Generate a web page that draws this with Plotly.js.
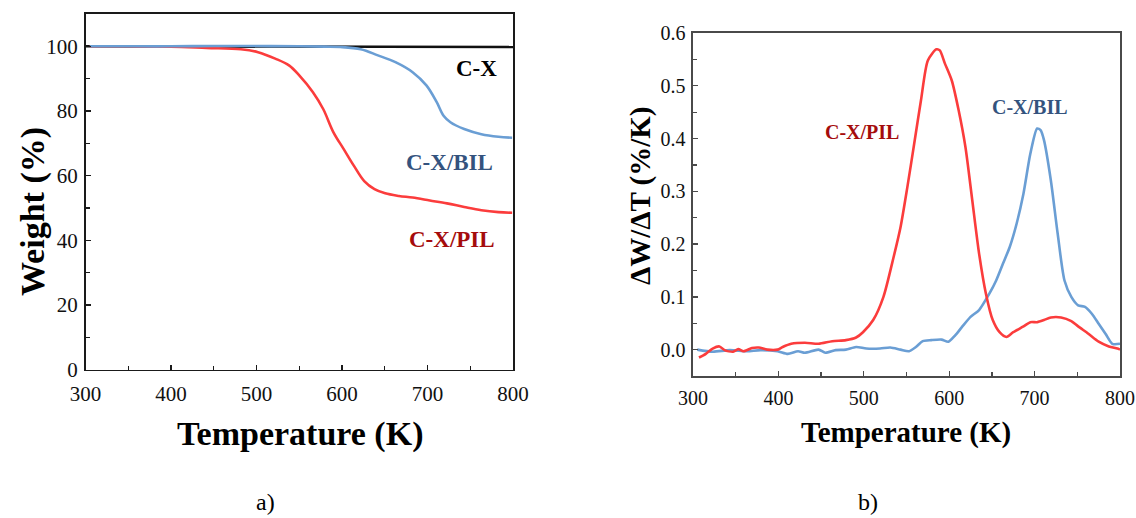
<!DOCTYPE html>
<html>
<head>
<meta charset="utf-8">
<script src="https://cdn.plot.ly/plotly-3.0.1.min.js"></script>
<style>
  html, body { margin: 0; padding: 0; background: #ffffff; }
  #chart { width: 1136px; height: 518px; }
</style>
</head>
<body>
<div id="chart"></div>
<script>
// ---- TGA weight curves (panel a) ----
const tgaTempCX = [300, 400, 500, 600, 700, 800];
const tgaWeightCX = [100, 100, 100, 100, 99.9, 99.8];

const tgaTempBIL = [305, 350, 400, 450, 500, 550, 580, 598, 622, 642, 662.5, 682.6, 698.7, 710.8, 718.8, 726.8, 742.9, 763, 783, 799];
const tgaWeightBIL = [100, 100, 100, 100.1, 100.1, 100, 99.9, 99.8, 99.1, 97.2, 95.1, 92, 87.9, 82.7, 78.5, 76.5, 74.4, 72.8, 72.0, 71.7];

const tgaTempPIL = [305, 350, 400, 441.5, 481.7, 501.8, 521.9, 538, 550, 566, 578, 590, 602, 614, 626, 638, 650.5, 666.6, 682.6, 702.7, 722.8, 742.9, 763, 783, 799];
const tgaWeightPIL = [100, 100, 99.9, 99.5, 99.1, 98.2, 96.2, 94.1, 91, 85.8, 80.6, 73.4, 68.2, 63, 58.3, 55.8, 54.5, 53.7, 53.2, 52.3, 51.4, 50.3, 49.3, 48.7, 48.5];

// ---- DTG curves (panel b) ----
const dtgTempPIL = [307, 315, 323, 331, 337, 347, 353, 359, 369, 377, 387, 399, 405, 415, 431, 447, 463, 479, 491, 499, 511, 523, 535, 543, 551, 559, 567, 575, 585, 589, 595, 603, 611, 619, 627, 635, 643, 651, 659, 667, 675, 687, 695, 703, 711, 719, 731, 743, 751, 763, 775, 787, 797, 800];
const dtgRatePIL = [-0.015, -0.008, 0.002, 0.006, -0.001, -0.004, 0.001, -0.003, 0.003, 0.004, 0.0, 0.0, 0.005, 0.011, 0.013, 0.011, 0.016, 0.018, 0.023, 0.033, 0.056, 0.1, 0.176, 0.232, 0.308, 0.39, 0.473, 0.548, 0.569, 0.567, 0.542, 0.51, 0.454, 0.384, 0.283, 0.182, 0.106, 0.056, 0.033, 0.024, 0.033, 0.044, 0.052, 0.052, 0.056, 0.061, 0.061, 0.054, 0.044, 0.03, 0.015, 0.006, 0.002, 0.0];

const dtgTempBIL = [305, 323, 343, 363, 379, 399, 411, 423, 431, 447, 455, 467, 479, 491, 503, 519, 531, 543, 553, 561, 569, 579, 591, 599, 607, 615, 625, 635, 647, 655, 663, 671, 679, 687, 695, 703, 707, 711, 719, 727, 735, 743, 751, 759, 767, 775, 783, 791, 800];
const dtgRateBIL = [0.0, -0.004, -0.001, -0.003, -0.001, -0.003, -0.008, -0.003, -0.006, 0.0, -0.006, -0.001, 0.0, 0.005, 0.002, 0.002, 0.004, 0.0, -0.003, 0.005, 0.016, 0.018, 0.019, 0.015, 0.027, 0.043, 0.062, 0.075, 0.106, 0.131, 0.163, 0.195, 0.239, 0.296, 0.371, 0.419, 0.416, 0.397, 0.321, 0.22, 0.131, 0.1, 0.084, 0.081, 0.068, 0.049, 0.03, 0.011, 0.011];

// ---- tick values ----
const tempTicks = [300, 400, 500, 600, 700, 800];
const weightTicks = [0, 20, 40, 60, 80, 100];
const rateTicks = [0.0, 0.1, 0.2, 0.3, 0.4, 0.5, 0.6];

const RED = '#fb3c3c';
const BLUE = '#6a9ed4';
const SERIF = 'Liberation Serif';

const traces = [
  { x: tgaTempCX, y: tgaWeightCX, xaxis: 'x', yaxis: 'y', mode: 'lines', line: { color: '#111111', width: 2.6 }, name: 'C-X' },
  { x: tgaTempPIL, y: tgaWeightPIL, xaxis: 'x', yaxis: 'y', mode: 'lines', line: { color: RED, width: 2.6, shape: 'spline' }, name: 'C-X/PIL' },
  { x: tgaTempBIL, y: tgaWeightBIL, xaxis: 'x', yaxis: 'y', mode: 'lines', line: { color: BLUE, width: 2.6, shape: 'spline' }, name: 'C-X/BIL' },
  { x: dtgTempBIL, y: dtgRateBIL, xaxis: 'x2', yaxis: 'y2', mode: 'lines', line: { color: BLUE, width: 2.6, shape: 'spline', smoothing: 0.7 }, name: 'C-X/BIL' },
  { x: dtgTempPIL, y: dtgRatePIL, xaxis: 'x2', yaxis: 'y2', mode: 'lines', line: { color: RED, width: 2.6, shape: 'spline', smoothing: 0.7 }, name: 'C-X/PIL' }
];

function axisBase(color, size) {
  return {
    showgrid: false, zeroline: false,
    showline: true, mirror: true, linecolor: color, linewidth: 1.6,
    ticks: 'inside', ticklen: 5, tickwidth: 1.3, tickcolor: color,
    tickfont: { family: SERIF, size: size, color: '#111111' }
  };
}

const layout = {
  width: 1136, height: 518,
  margin: { l: 0, r: 0, t: 0, b: 0 },
  font: { family: SERIF, color: '#111111' },
  paper_bgcolor: '#ffffff', plot_bgcolor: '#ffffff',
  showlegend: false,
  xaxis: Object.assign(axisBase('#1a1a1a', 21), {
    domain: [85.5 / 1136, 513 / 1136], anchor: 'y',
    range: [300, 800], tickvals: tempTicks, ticklabelstandoff: 5,
    minor: { ticks: 'inside', dtick: 50, ticklen: 4, tickcolor: '#1a1a1a', tickwidth: 1.2 }
  }),
  yaxis: Object.assign(axisBase('#1a1a1a', 21), {
    domain: [1 - 369.5 / 518, 1 - 14 / 518], anchor: 'x',
    range: [0, 110], tickvals: weightTicks, ticklabelstandoff: 2,
    minor: { ticks: 'inside', dtick: 10, ticklen: 4, tickcolor: '#1a1a1a', tickwidth: 1.2 }
  }),
  xaxis2: Object.assign(axisBase('#4a4a4a', 20), {
    domain: [693 / 1136, 1120 / 1136], anchor: 'y2',
    range: [300, 800], tickvals: tempTicks, ticklabelstandoff: 3,
    minor: { ticks: 'inside', dtick: 50, ticklen: 4, tickcolor: '#4a4a4a', tickwidth: 1.2 }
  }),
  yaxis2: Object.assign(axisBase('#4a4a4a', 20), {
    domain: [1 - 376 / 518, 1 - 33 / 518], anchor: 'x2',
    range: [-0.05, 0.6], tickvals: rateTicks, tickformat: '.1f', ticklabelstandoff: 2,
    minor: { ticks: 'inside', dtick: 0.05, ticklen: 4, tickcolor: '#4a4a4a', tickwidth: 1.2 }
  }),
  annotations: [
    // axis titles
    { xref: 'paper', yref: 'paper', x: 300 / 1136, y: 1 - 434 / 518, text: '<b>Temperature (K)</b>', showarrow: false,
      font: { family: SERIF, size: 34, color: '#000000' }, xanchor: 'center', yanchor: 'middle' },
    { xref: 'paper', yref: 'paper', x: 33 / 1136, y: 1 - 212 / 518, text: '<b>Weight (%)</b>', showarrow: false, textangle: -90,
      font: { family: SERIF, size: 34, color: '#000000' }, xanchor: 'center', yanchor: 'middle' },
    { xref: 'paper', yref: 'paper', x: 906 / 1136, y: 1 - 432 / 518, text: '<b>Temperature (K)</b>', showarrow: false,
      font: { family: SERIF, size: 29, color: '#000000' }, xanchor: 'center', yanchor: 'middle' },
    { xref: 'paper', yref: 'paper', x: 640 / 1136, y: 1 - 196 / 518, text: '<b>ΔW/ΔT (%/K)</b>', showarrow: false, textangle: -90,
      font: { family: SERIF, size: 29, color: '#000000' }, xanchor: 'center', yanchor: 'middle' },
    // panel captions
    { xref: 'paper', yref: 'paper', x: 265 / 1136, y: 1 - 502 / 518, text: 'a)', showarrow: false,
      font: { family: SERIF, size: 24, color: '#000000' }, xanchor: 'center', yanchor: 'middle' },
    { xref: 'paper', yref: 'paper', x: 868 / 1136, y: 1 - 502 / 518, text: 'b)', showarrow: false,
      font: { family: SERIF, size: 24, color: '#000000' }, xanchor: 'center', yanchor: 'middle' },
    // series labels, panel a
    { xref: 'x', yref: 'y', x: 757, y: 93.1, text: '<b>C-X</b>', showarrow: false,
      font: { family: SERIF, size: 23, color: '#000000' }, xanchor: 'center', yanchor: 'middle' },
    { xref: 'x', yref: 'y', x: 726, y: 64.2, text: '<b>C-X/BIL</b>', showarrow: false,
      font: { family: SERIF, size: 23, color: '#34537e' }, xanchor: 'center', yanchor: 'middle' },
    { xref: 'x', yref: 'y', x: 728.6, y: 40.2, text: '<b>C-X/PIL</b>', showarrow: false,
      font: { family: SERIF, size: 23, color: '#a50c0c' }, xanchor: 'center', yanchor: 'middle' },
    // series labels, panel b
    { xref: 'x2', yref: 'y2', x: 498, y: 0.413, text: '<b>C-X/PIL</b>', showarrow: false,
      font: { family: SERIF, size: 20, color: '#a50c0c' }, xanchor: 'center', yanchor: 'middle' },
    { xref: 'x2', yref: 'y2', x: 694.6, y: 0.459, text: '<b>C-X/BIL</b>', showarrow: false,
      font: { family: SERIF, size: 20, color: '#34537e' }, xanchor: 'center', yanchor: 'middle' }
  ]
};

Plotly.newPlot('chart', traces, layout, { staticPlot: true, displayModeBar: false });
</script>
</body>
</html>
